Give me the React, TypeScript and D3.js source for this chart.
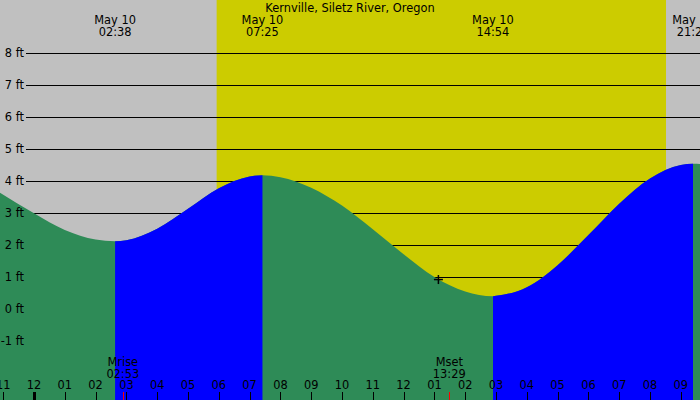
import React from 'react';
import * as d3 from 'd3';

const W = 700;
const H = 400;

const stationTitle = 'Kernville, Siletz River, Oregon';
const dayLabel = 'May 10';

// high / low tide times, hours after midnight of May 10
const extremeHours = [2.633, 7.417, 14.9, 21.4];
const extremeTimes = ['02:38', '07:25', '14:54', '21:24'];
const risingFrom = [2.633, 14.9];
const risingTo = [7.417, 21.4];

// water level (hours, feet)
const curveHours = [-1.2, 0, 1, 2, 2.633, 3, 4, 5, 6, 7, 7.417, 8, 9, 10, 11, 12, 13, 14, 14.9, 15, 16, 17, 18, 19, 20, 21, 21.4, 22];
const curveFeet = [3.7, 3.0, 2.48, 2.18, 2.13, 2.16, 2.52, 3.14, 3.78, 4.15, 4.19, 4.13, 3.8, 3.24, 2.5, 1.72, 1.01, 0.56, 0.41, 0.42, 0.69, 1.38, 2.32, 3.3, 4.09, 4.51, 4.55, 4.49];

const sunriseHour = 5.93;
const sunsetHour = 20.52;

const moonNames = ['Mrise', 'Mset'];
const moonTimes = ['02:53', '13:29'];
const moonHours = [2.883, 13.483];

const nowHour = 13.13;
const nowFeet = 0.93;

const feetTicks = [-1, 0, 1, 2, 3, 4, 5, 6, 7, 8];
const hourTicks = [-1, 0, 1, 2, 3, 4, 5, 6, 7, 8, 9, 10, 11, 12, 13, 14, 15, 16, 17, 18, 19, 20, 21];
const hourTickLabels = ['11', '12', '01', '02', '03', '04', '05', '06', '07', '08', '09', '10', '11', '12', '01', '02', '03', '04', '05', '06', '07', '08', '09'];

const FONT = '"DejaVu Sans", sans-serif';
const FS = 11.4;

export default function App() {
  const x = d3.scaleLinear().domain([-34 / 30.8, (W - 34) / 30.8]).range([0, W]);
  const y = d3.scaleLinear().domain([0, 8]).range([309.3, 53.3]);

  const pts = curveHours.map((h, i) => ({ h, f: curveFeet[i] }));
  const water = d3.area<{ h: number; f: number }>()
    .x(d => x(d.h))
    .y0(H)
    .y1(d => y(d.f))
    .curve(d3.curveMonotoneX)(pts) || '';

  return (
    <svg width={W} height={H} style={{ position: 'absolute', left: 0, top: 0 }} fontFamily={FONT} fontSize={FS}>
      <defs>
        {risingFrom.map((h, i) => (
          <clipPath id={`rise${i}`} key={i}>
            <rect x={x(h)} y={0} width={x(risingTo[i]) - x(h)} height={H} />
          </clipPath>
        ))}
      </defs>

      <rect x={0} y={0} width={W} height={H} fill="#c0c0c0" />
      <rect x={x(sunriseHour)} y={0} width={x(sunsetHour) - x(sunriseHour)} height={H} fill="#cccc00" />

      {feetTicks.map(v => (
        <line key={v} x1={26} x2={W} y1={Math.round(y(v)) + 0.5} y2={Math.round(y(v)) + 0.5} stroke="#000" strokeWidth={1} />
      ))}

      <path d={water} fill="#2e8b57" />
      {risingFrom.map((h, i) => (
        <path key={h} d={water} fill="#0000ff" clipPath={`url(#rise${i})`} />
      ))}

      {feetTicks.map(v => (
        <text key={v} x={24} y={y(v) + 4} textAnchor="end" fill="#000">{`${v} ft`}</text>
      ))}

      <text x={W / 2} y={12} textAnchor="middle" fill="#000">{stationTitle}</text>

      {extremeHours.map((h, i) => (
        <g key={h} textAnchor="middle" fill="#000">
          <text x={x(h)} y={24}>{dayLabel}</text>
          <text x={x(h)} y={36}>{extremeTimes[i]}</text>
        </g>
      ))}

      {hourTicks.map((h, i) => (
        <g key={h}>
          <line
            x1={Math.round(x(h)) + 0.5} x2={Math.round(x(h)) + 0.5}
            y1={392} y2={H}
            stroke="#000" strokeWidth={h === 0 ? 3 : 1}
          />
          <text x={x(h)} y={389} textAnchor="middle" fill="#000">{hourTickLabels[i]}</text>
        </g>
      ))}

      {moonHours.map((h, i) => (
        <g key={h}>
          <line x1={Math.round(x(h)) + 0.5} x2={Math.round(x(h)) + 0.5} y1={392} y2={H} stroke="#ff0000" strokeWidth={1} />
          <text x={x(h)} y={366} textAnchor="middle" fill="#000">{moonNames[i]}</text>
          <text x={x(h)} y={377.5} textAnchor="middle" fill="#000">{moonTimes[i]}</text>
        </g>
      ))}

      <g stroke="#000" strokeWidth={1.5}>
        <line x1={x(nowHour) - 4.5} x2={x(nowHour) + 4.5} y1={y(nowFeet)} y2={y(nowFeet)} />
        <line x1={x(nowHour)} x2={x(nowHour)} y1={y(nowFeet) - 4.5} y2={y(nowFeet) + 4.5} />
      </g>
    </svg>
  );
}
